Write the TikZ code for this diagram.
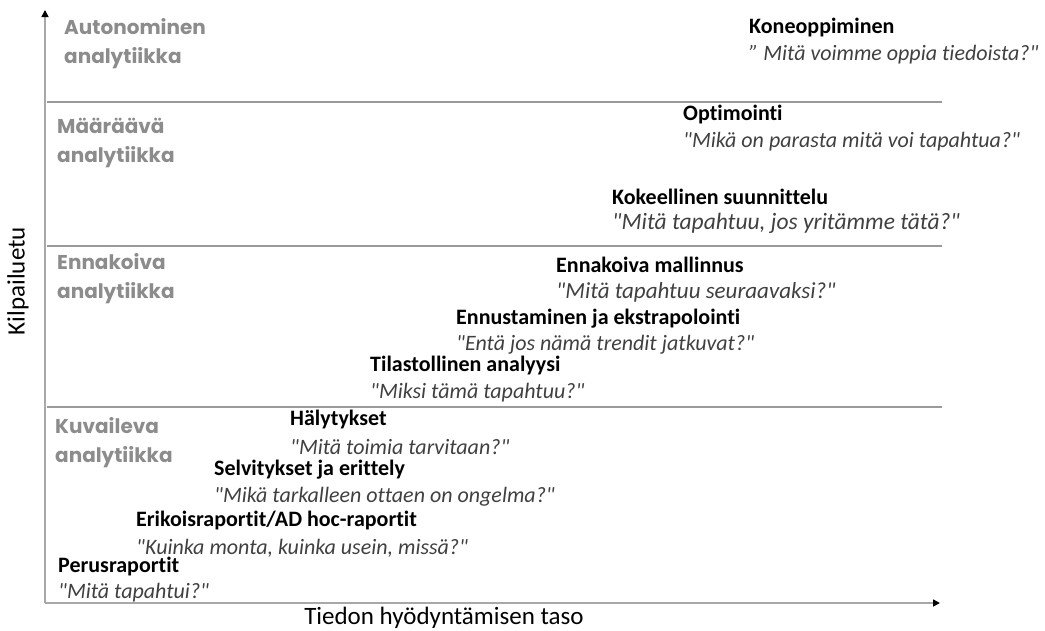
\documentclass[tikz,border=0pt]{standalone}
\usepackage{fontspec}
\setmainfont{Carlito}[Ligatures={TeXOff,NoCommon}]
\newfontfamily\catfont{Poppins}
\usetikzlibrary{arrows.meta}
\definecolor{catgray}{HTML}{8C8C8C}
\definecolor{qgray}{HTML}{404040}
\definecolor{linegray}{HTML}{9A9A9A}
\definecolor{axisgray}{HTML}{A8A8A8}
\begin{document}
\begin{tikzpicture}[x=1pt,y=-1pt,
  cat/.style={anchor=west,inner sep=0pt,text=catgray,font=\catfont\bfseries\fontsize{20}{29}\selectfont,align=left},
  ttl/.style={anchor=west,inner sep=0pt,font=\bfseries\fontsize{22}{24}\selectfont},
  qst/.style={anchor=west,inner sep=0pt,text=qgray,font=\itshape\fontsize{22}{24}\selectfont},
  qbig/.style={qst,font=\itshape\fontsize{23.5}{26}\selectfont},
  qmid/.style={qst,font=\itshape\fontsize{23}{26}\selectfont},
  axlab/.style={inner sep=0pt,font=\fontsize{25}{28}\selectfont},
  sep/.style={draw=linegray,line width=1.4pt},
  axis/.style={draw=axisgray,line width=1.6pt,-{Triangle[length=7pt,width=7pt,fill=black,color=black]}}]
\useasboundingbox (0,0) rectangle (1045,630);
\coordinate (o) at (45,603);
\coordinate (ytop) at (45,10);
\coordinate (xend) at (940,603);
\draw[axis] (o) -- (ytop);
\draw[axis] (o) -- (xend);
\coordinate (l1a) at (47,102); \coordinate (l1b) at (942,102);
\coordinate (l2a) at (47,246); \coordinate (l2b) at (942,246);
\coordinate (l3a) at (47,407); \coordinate (l3b) at (942,407);
\draw[sep] (l1a) -- (l1b);
\draw[sep] (l2a) -- (l2b);
\draw[sep] (l3a) -- (l3b);
\node[cat] (c1) at (64,44) {Autonominen\\analytiikka};
\node[cat] (c2) at (57,143) {Määräävä\\analytiikka};
\node[cat] (c3) at (57,279) {Ennakoiva\\analytiikka};
\node[cat] (c4) at (55,443) {Kuvaileva\\analytiikka};
\node[ttl] (t1) at (749,28) {Koneoppiminen};
\node[qst] (q1) at (749,55) {” Mitä voimme oppia tiedoista?"};
\node[ttl] (t2) at (683,115) {Optimointi};
\node[qst] (q2) at (683,142) {"Mikä on parasta mitä voi tapahtua?"};
\node[ttl] (t3) at (612,197) {Kokeellinen suunnittelu};
\node[qbig] (q3) at (612,223) {"Mitä tapahtuu, jos yritämme tätä?"};
\node[ttl] (t4) at (556,265) {Ennakoiva mallinnus};
\node[qmid] (q4) at (556,292) {"Mitä tapahtuu seuraavaksi?"};
\node[ttl] (t5) at (456,319) {Ennustaminen ja ekstrapolointi};
\node[qst] (q5) at (456,345) {"Entä jos nämä trendit jatkuvat?"};
\node[ttl] (t6) at (370,366) {Tilastollinen analyysi};
\node[qst] (q6) at (370,393) {"Miksi tämä tapahtuu?"};
\node[ttl] (t7) at (290,420) {Hälytykset};
\node[qst] (q7) at (290,447) {"Mitä toimia tarvitaan?"};
\node[ttl] (t8) at (214,470) {Selvitykset ja erittely};
\node[qst] (q8) at (214,497) {"Mikä tarkalleen ottaen on ongelma?"};
\node[ttl] (t9) at (136,521) {Erikoisraportit/AD hoc-raportit};
\node[qst] (q9) at (136,548) {"Kuinka monta, kuinka usein, missä?"};
\node[ttl] (t10) at (58,567) {Perusraportit};
\node[qst] (q10) at (58,593) {"Mitä tapahtui?"};
\node[axlab,rotate=90] (ylab) at (18,281) {Kilpailuetu};
\node[axlab] (xlab) at (444,618) {Tiedon hyödyntämisen taso};
\end{tikzpicture}
\end{document}
